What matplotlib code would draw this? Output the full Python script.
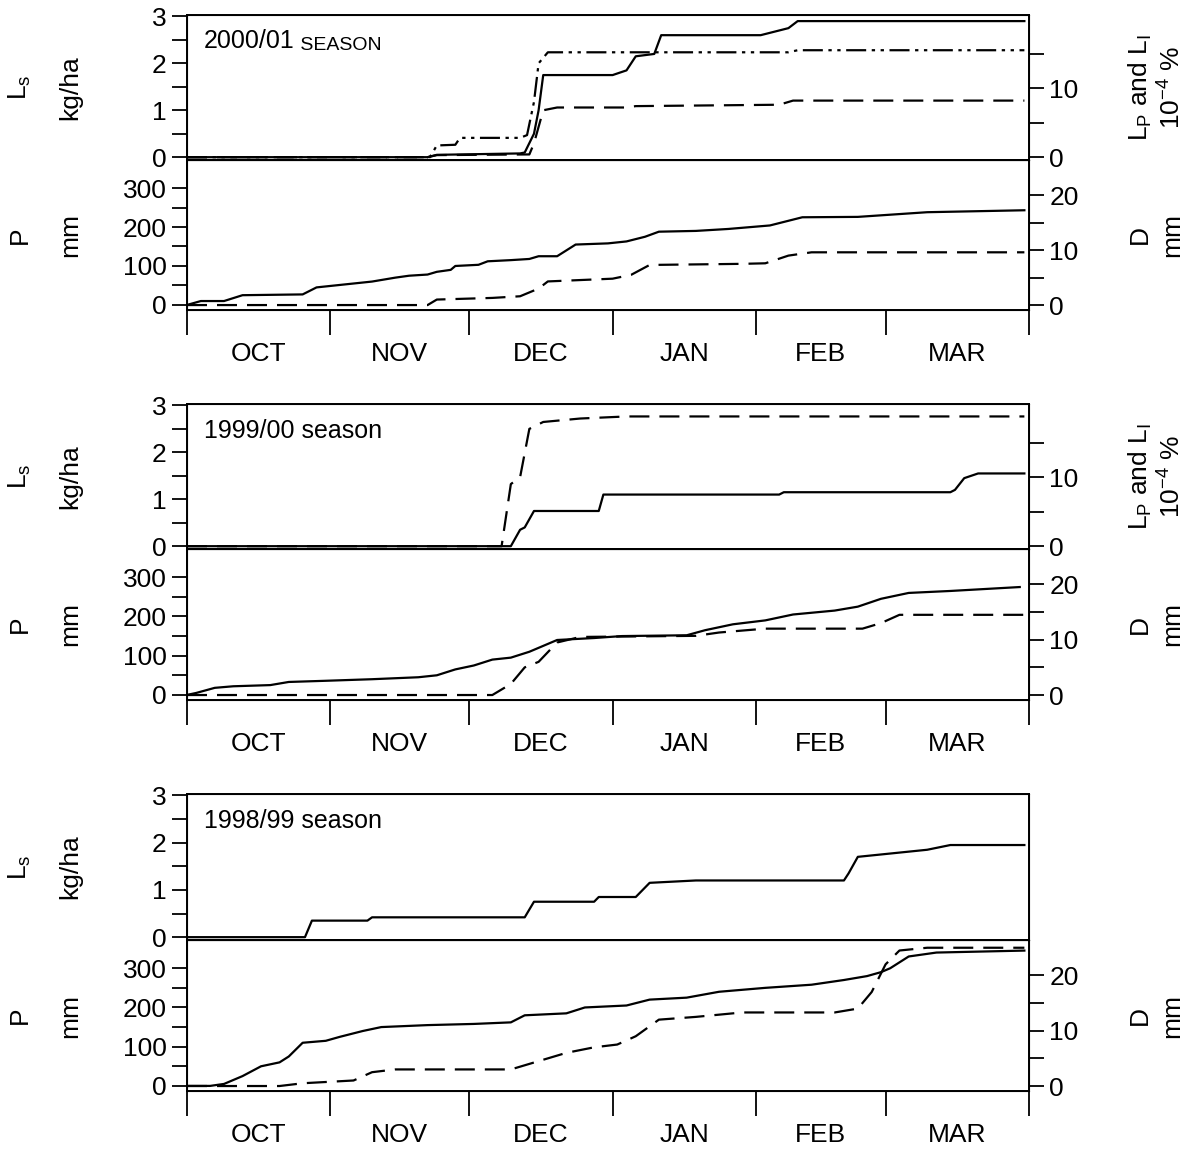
"""Cumulative losses (L_s, L_p, L_i), rainfall P and drainage D over three seasons."""
import matplotlib
matplotlib.use("Agg")
import matplotlib.pyplot as plt

plt.rcParams["font.family"] = ["Liberation Sans", "DejaVu Sans"]
plt.rcParams["mathtext.fontset"] = "custom"
plt.rcParams["mathtext.rm"] = "Liberation Sans"
plt.rcParams["mathtext.it"] = "Liberation Sans"

# x = day of season, 0 = 1 Oct
MONTH_EDGES = [0, 31, 61, 92, 123, 151, 182]
MONTHS = ["OCT", "NOV", "DEC", "JAN", "FEB", "MAR"]

# ---- 2000/01 season ----
s1_ls_x = [0, 52, 54, 72, 73, 75, 76, 77, 92, 95, 97, 101, 102.5, 124, 128, 130, 132, 181]
s1_ls_y = [0, 0, 0.05, 0.08, 0.1, 0.5, 1.0, 1.75, 1.75, 1.85, 2.15, 2.2, 2.6, 2.6, 2.7, 2.75, 2.9, 2.9]
s1_lp_x = [0, 52.5, 54, 58, 59, 72, 73.5, 75, 76, 78, 130, 132, 181]
s1_lp_y = [0, 0, 1.7, 1.8, 2.8, 2.8, 3.2, 8.0, 13.6, 15.2, 15.2, 15.5, 15.5]
s1_li_x = [0, 52, 54, 74, 75, 77, 80, 95, 97, 128, 131, 181]
s1_li_y = [0, 0, 0.3, 0.4, 2.0, 6.8, 7.2, 7.2, 7.4, 7.6, 8.2, 8.2]
s1_p_x = [0, 3, 8, 12, 25, 28, 32, 36, 40, 45, 48, 52, 54, 57, 58, 63, 65, 70, 74, 76, 80, 82, 84,
          91, 95, 99, 102, 110, 117, 122, 126, 128, 133, 145, 150, 160, 181]
s1_p_y = [0, 10, 10, 25, 27, 45, 50, 55, 60, 70, 75, 78, 85, 90, 100, 103, 112, 115, 118, 125, 125,
          140, 155, 158, 163, 175, 188, 190, 195, 200, 204, 210, 225, 226, 230, 238, 243]
s1_d_x = [0, 52, 54, 66, 72, 76, 78, 92, 96, 100, 120, 125, 130, 135, 181]
s1_d_y = [0, 0, 1.0, 1.3, 1.6, 3.0, 4.3, 4.8, 5.5, 7.3, 7.5, 7.6, 9.0, 9.6, 9.6]

# ---- 1999/00 season ----
s2_ls_x = [0, 70, 72, 73, 75, 89, 90, 128, 129, 165, 166, 168, 171, 181]
s2_ls_y = [0, 0, 0.35, 0.4, 0.75, 0.75, 1.1, 1.1, 1.15, 1.15, 1.2, 1.45, 1.55, 1.55]
s2_lp_x = [0, 68, 70, 72, 74, 77, 85, 95, 181]
s2_lp_y = [0, 0, 9.0, 10.0, 17.0, 18.0, 18.5, 18.8, 18.8]
s2_p_x = [0, 2, 6, 10, 18, 22, 30, 40, 50, 54, 58, 62, 66, 70, 74, 77, 80, 88, 94, 108, 112, 118,
          125, 131, 140, 145, 150, 156, 165, 180]
s2_p_y = [0, 5, 18, 22, 25, 33, 36, 40, 45, 50, 65, 75, 90, 95, 110, 125, 140, 145, 150, 152, 165,
          180, 190, 205, 215, 225, 245, 260, 265, 275]
s2_d_x = [0, 66, 70, 73, 76, 80, 85, 110, 115, 125, 146, 150, 154, 181]
s2_d_y = [0, 0, 2.0, 5.0, 6.0, 9.5, 10.5, 10.7, 11.3, 12.0, 12.0, 13.0, 14.5, 14.5]

# ---- 1998/99 season ----
s3_ls_x = [0, 25.5, 27, 39, 40, 73, 75, 88, 89, 97, 100, 110, 142, 143, 145, 150, 160, 165, 181]
s3_ls_y = [0, 0, 0.35, 0.35, 0.42, 0.42, 0.75, 0.75, 0.85, 0.85, 1.15, 1.2, 1.2, 1.35, 1.7, 1.75,
           1.85, 1.95, 1.95]
s3_p_x = [0, 5, 8, 12, 16, 20, 22, 25, 30, 33, 38, 42, 52, 62, 70, 73, 82, 86, 95, 100, 108, 115,
          125, 135, 142, 147, 150, 152, 156, 162, 181]
s3_p_y = [0, 0, 5, 25, 50, 60, 75, 110, 115, 125, 140, 150, 155, 158, 162, 180, 185, 200, 205, 220,
          225, 240, 250, 258, 270, 280, 290, 300, 330, 340, 345]
s3_d_x = [0, 20, 25, 36, 40, 45, 70, 76, 82, 88, 93, 97, 102, 110, 120, 140, 145, 148, 151, 154, 160, 181]
s3_d_y = [0, 0, 0.5, 1.0, 2.5, 3.0, 3.0, 4.5, 6.0, 7.0, 7.5, 9.0, 12.0, 12.5, 13.3, 13.3, 14.0, 17.0,
          22.0, 24.5, 25.0, 25.0]

W, H = 1188, 1149
LEFT, RIGHT = 187, 1029
LW = 1.6
DASH = (0, (9, 4.5))
DASH_DOT2 = (0, (9, 2.5, 1.5, 2.5, 1.5, 2.5))
FS = 19


def frac_rect(top, bottom):
    return [LEFT / W, 1 - bottom / H, (RIGHT - LEFT) / W, (bottom - top) / H]


def y_ticks(a):
    a.tick_params(axis="y", which="both", direction="out", length=11, width=1.3, labelsize=FS)


fig = plt.figure(figsize=(W / 100, H / 100), dpi=100)

seasons = [
    dict(tops=(15, 160, 310), label=("2000/01", " SEASON"), ls=(s1_ls_x, s1_ls_y),
         right=[(s1_lp_x, s1_lp_y, DASH_DOT2), (s1_li_x, s1_li_y, DASH)],
         p=(s1_p_x, s1_p_y), d=(s1_d_x, s1_d_y)),
    dict(tops=(404, 549, 700), label=("1999/00 season", ""), ls=(s2_ls_x, s2_ls_y),
         right=[(s2_lp_x, s2_lp_y, DASH)], p=(s2_p_x, s2_p_y), d=(s2_d_x, s2_d_y)),
    dict(tops=(794, 940, 1091), label=("1998/99 season", ""), ls=(s3_ls_x, s3_ls_y),
         right=None, p=(s3_p_x, s3_p_y), d=(s3_d_x, s3_d_y)),
]

for s in seasons:
    t0, t1, t2 = s["tops"]
    ax = fig.add_axes(frac_rect(t0, t1))
    axp = fig.add_axes(frac_rect(t1, t2))
    for a in (ax, axp):
        a.set_xlim(0, 182)
        a.set_xticks(MONTH_EDGES)
        a.tick_params(axis="x", which="major", direction="out", length=18, width=1.3, labelbottom=False)
        for sp in a.spines.values():
            sp.set_linewidth(1.4)

    ax.plot(*s["ls"], color="black", lw=LW)
    ax.set_ylim(-0.06, 3.03)
    ax.set_yticks([0, 1, 2, 3])
    ax.set_yticks([0.5, 1.5, 2.5], minor=True)
    y_ticks(ax)

    txt = ax.text(0.02, 0.9, s["label"][0], transform=ax.transAxes, fontsize=18, va="top")
    if s["label"][1]:
        ax.annotate(s["label"][1], xy=(1, 0), xycoords=txt, fontsize=14, va="bottom")

    axr = ax.twinx()
    if s["right"] is not None:
        for x, y, st in s["right"]:
            axr.plot(x, y, color="black", lw=LW, linestyle=st)
        axr.set_ylim(-0.06 * 6.8, 3.03 * 6.8)
        axr.set_yticks([0, 10])
        axr.set_yticks([5, 15], minor=True)
        y_ticks(axr)
        ym = 1 - (t0 + t1) / 2 / H
        fig.text(1140 / W, ym, r"L$_\mathregular{P}$ and L$_\mathregular{I}$", rotation=90,
                 ha="center", va="center", fontsize=FS)
        fig.text(1172 / W, ym, r"10$^\mathregular{-4}$ %", rotation=90, ha="center", va="center", fontsize=FS)
    else:
        axr.set_yticks([])

    axp.plot(*s["p"], color="black", lw=LW)
    axp.set_ylim(-13, 372)
    axp.set_yticks([0, 100, 200, 300])
    axp.set_yticks([50, 150, 250], minor=True)
    y_ticks(axp)
    axp.set_xticks([(MONTH_EDGES[i] + MONTH_EDGES[i + 1]) / 2 for i in range(6)], minor=True)
    axp.set_xticklabels(MONTHS, minor=True)
    axp.tick_params(axis="x", which="minor", length=0, pad=23, labelsize=FS)

    axd = axp.twinx()
    axd.plot(*s["d"], color="black", lw=LW, linestyle=DASH)
    axd.set_ylim(-0.9, 26.4)
    axd.set_yticks([0, 10, 20])
    axd.set_yticks([5, 15], minor=True)
    y_ticks(axd)

    ym = 1 - (t0 + t1) / 2 / H
    fig.text(20 / W, ym, r"L$_\mathregular{s}$", rotation=90, ha="center", va="center", fontsize=FS)
    fig.text(70 / W, ym, "kg/ha", rotation=90, ha="center", va="center", fontsize=FS)
    ym = 1 - (t1 + t2) / 2 / H
    fig.text(20 / W, ym, "P", rotation=90, ha="center", va="center", fontsize=FS)
    fig.text(70 / W, ym, "mm", rotation=90, ha="center", va="center", fontsize=FS)
    fig.text(1140 / W, ym, "D", rotation=90, ha="center", va="center", fontsize=FS)
    fig.text(1172 / W, ym, "mm", rotation=90, ha="center", va="center", fontsize=FS)

fig.savefig("out.png", dpi=100)
